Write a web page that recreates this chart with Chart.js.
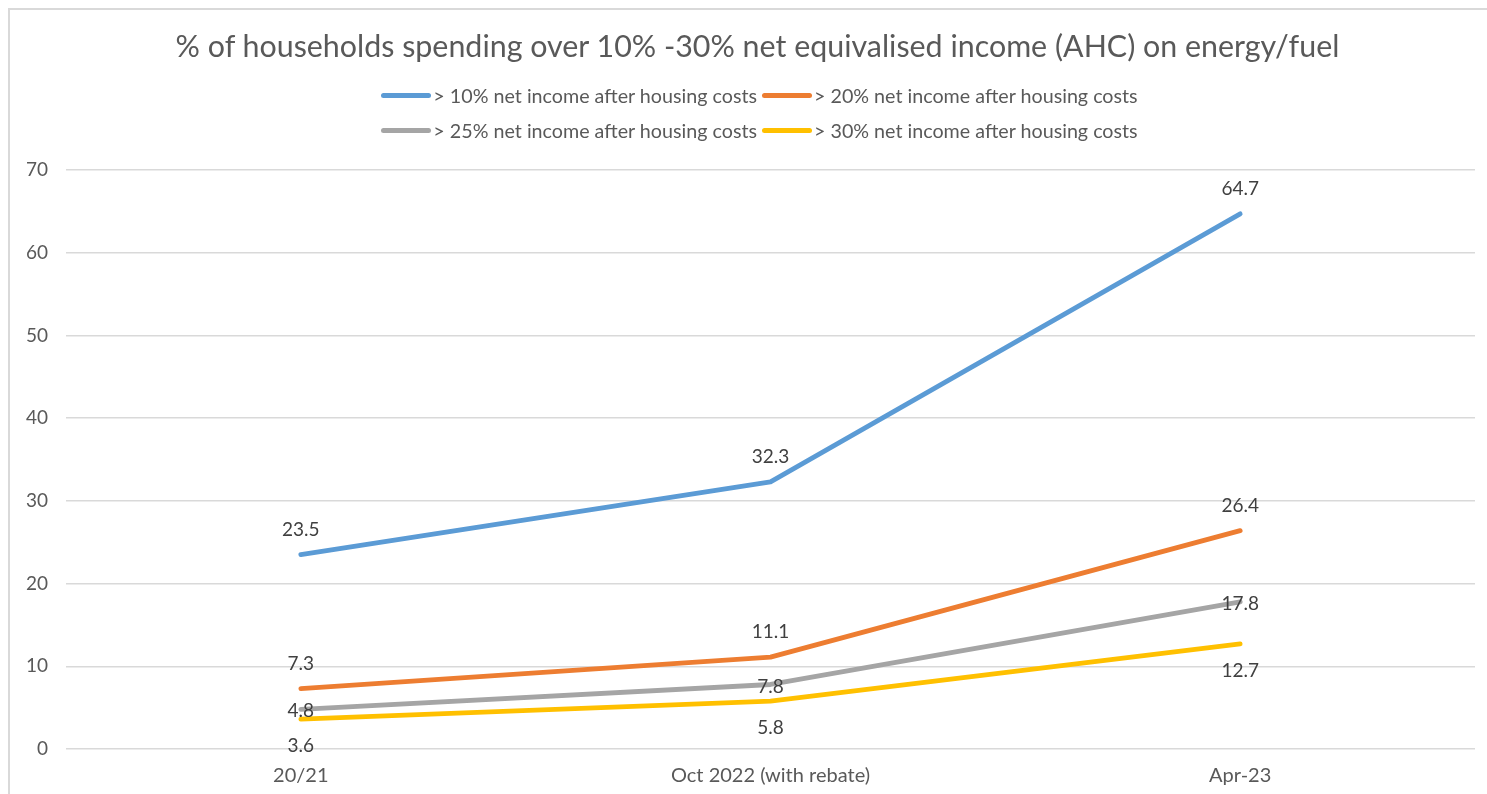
<!DOCTYPE html>
<html>
<head>
<meta charset="utf-8">
<script src="https://cdn.jsdelivr.net/npm/chart.js@4.4.1/dist/chart.umd.min.js"></script>
<style>
  html, body { margin: 0; padding: 0; background: #fff; }
  body { width: 1487px; height: 794px; overflow: hidden; position: relative; font-family: Lato, "Open Sans", sans-serif; }
  #frame { position: absolute; left: 8px; top: 8px; right: 0; bottom: 0; border-top: 2px solid #d9d9d9; border-left: 2px solid #d9d9d9; }
  #wrap { position: absolute; left: 0; top: 0; width: 1487px; height: 794px; }
  #title { position: absolute; left: 14px; width: 1487px; top: 27px; text-align: center; font-size: 30.4px; color: #595959; }
  #legend { position: absolute; left: 16px; width: 1487px; top: 78px; }
  .row { display: flex; justify-content: center; height: 35px; align-items: center; }
  .item { display: flex; align-items: center; font-size: 19.7px; color: #595959; white-space: nowrap; margin: 0 2.5px; }
  .swatch { width: 50px; height: 5px; border-radius: 3px; margin-right: 2px; }
</style>
</head>
<body>
<div id="frame"></div>
<div id="wrap"><canvas id="energyChart" width="1487" height="794"></canvas></div>
<div id="title">% of households spending over 10% -30% net equivalised income (AHC) on energy/fuel</div>
<div id="legend"></div>
<script>
// categories and series
const periods = ['20/21', 'Oct 2022 (with rebate)', 'Apr-23'];
const over10 = [23.5, 32.3, 64.7];
const over20 = [7.3, 11.1, 26.4];
const over25 = [4.8, 7.8, 17.8];
const over30 = [3.6, 5.8, 12.7];
const seriesNames = [
    '> 10% net income after housing costs',
    '> 20% net income after housing costs',
    '> 25% net income after housing costs',
    '> 30% net income after housing costs',
];
const yTicks = [0, 10, 20, 30, 40, 50, 60, 70];

const colours = ['#5B9BD5', '#ED7D31', '#A5A5A5', '#FFC000'];
// where each series puts its value labels: above, centred or below the point
const labelShift = [-25, -25, 2, 27];

function makeSet(i, values) {
    return {
        label: seriesNames[i],
        data: values,
        borderColor: colours[i],
        backgroundColor: colours[i],
        borderWidth: 4.8,
        pointRadius: 0,
        tension: 0,
        borderCapStyle: 'round',
        borderJoinStyle: 'round',
        labelShift: labelShift[i],
    };
}

// value labels, placed from the points the library computed
const valueLabels = {
    id: 'valueLabels',
    afterDatasetsDraw(chart) {
        const ctx = chart.ctx;
        ctx.save();
        ctx.font = '19px Lato, "Open Sans", sans-serif';
        ctx.fillStyle = '#404040';
        ctx.textAlign = 'center';
        ctx.textBaseline = 'middle';
        chart.data.datasets.forEach((ds, i) => {
            chart.getDatasetMeta(i).data.forEach((pt, j) => {
                ctx.fillText(ds.data[j].toFixed(1), pt.x, pt.y + ds.labelShift);
            });
        });
        ctx.restore();
    },
};

const chart = new Chart(document.getElementById('energyChart'), {
    type: 'line',
    data: {
        labels: periods,
        datasets: [makeSet(0, over10), makeSet(1, over20), makeSet(2, over25), makeSet(3, over30)],
    },
    options: {
        responsive: false,
        animation: false,
        layout: { padding: { top: 170, left: 10, right: 12, bottom: 5 } },
        plugins: {
            legend: { display: false },
            title: { display: false },
            tooltip: { enabled: false },
        },
        scales: {
            x: {
                offset: true,
                grid: { display: false },
                border: { display: false },
                ticks: { color: '#595959', font: { size: 20, family: 'Lato' }, padding: 7 },
                afterFit(scale) { scale.height = 40; },
            },
            y: {
                min: 0,
                max: 70,
                afterBuildTicks(scale) { scale.ticks = yTicks.map(v => ({ value: v })); },
                grid: { color: '#d9d9d9', lineWidth: 1.5, drawTicks: false },
                border: { display: false },
                ticks: { color: '#595959', font: { size: 19, family: 'Lato' }, padding: 18 },
                afterFit(scale) { scale.width = 56; },
            },
        },
    },
    plugins: [valueLabels],
});

// two-row legend like the reference
const legendBox = document.getElementById('legend');
[[0, 1], [2, 3]].forEach(pair => {
    const row = document.createElement('div');
    row.className = 'row';
    pair.forEach(i => {
        const item = document.createElement('div');
        item.className = 'item';
        const sw = document.createElement('span');
        sw.className = 'swatch';
        sw.style.background = chart.data.datasets[i].borderColor;
        item.appendChild(sw);
        item.appendChild(document.createTextNode(chart.data.datasets[i].label));
        row.appendChild(item);
    });
    legendBox.appendChild(row);
});
</script>
</body>
</html>
